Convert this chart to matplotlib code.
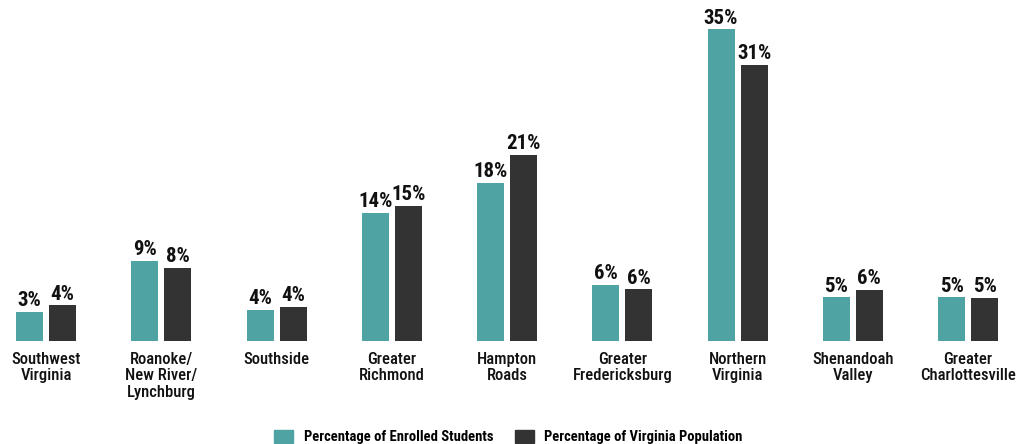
import matplotlib.pyplot as plt
import matplotlib.patches as mpatches
import numpy as np
from matplotlib import font_manager

regions = ['Southwest\nVirginia', 'Roanoke/\nNew River/\nLynchburg', 'Southside',
           'Greater\nRichmond', 'Hampton\nRoads', 'Greater\nFredericksburg',
           'Northern\nVirginia', 'Shenandoah\nValley', 'Greater\nCharlottesville']
enrolled = [3.3, 9.0, 3.5, 14.4, 17.8, 6.3, 35.0, 4.9, 4.9]
population = [4.0, 8.2, 3.8, 15.2, 20.9, 5.8, 31.0, 5.7, 4.8]
enrolled_lbl = ['3%', '9%', '4%', '14%', '18%', '6%', '35%', '5%', '5%']
population_lbl = ['4%', '8%', '4%', '15%', '21%', '6%', '31%', '6%', '5%']

teal = '#4fa3a3'
dark = '#333333'

names = {f.name for f in font_manager.fontManager.ttflist}
fam = [f for f in ['Roboto Condensed', 'Fira Sans Condensed', 'Liberation Sans Narrow']
       if f in names] + ['DejaVu Sans']
plt.rcParams['font.family'] = fam

fig = plt.figure(figsize=(10.17, 4.44), dpi=100)
ax = fig.add_axes([0, 0.232, 1, 0.768])

x = np.arange(len(regions))
w = 0.234
off = 0.143
b1 = ax.bar(x - off, enrolled, w, color=teal)
b2 = ax.bar(x + off, population, w, color=dark)

for bars, labels in [(b1, enrolled_lbl), (b2, population_lbl)]:
    for bar, lab in zip(bars, labels):
        ax.text(bar.get_x() + bar.get_width() / 2, bar.get_height() + 0.2, lab,
                ha='center', va='bottom', fontsize=15, fontweight='bold', color='#111111')

ax.set_xlim(-0.4, 8.425)
ax.set_ylim(0, 38.3)
ax.set_xticks(x)
ax.set_xticklabels(regions, fontsize=12, fontweight='medium', color='#111111', linespacing=1.1)
ax.tick_params(axis='x', length=0, pad=8)
ax.set_yticks([])
for s in ax.spines.values():
    s.set_visible(False)

handles = [mpatches.Patch(color=teal, label='Percentage of Enrolled Students'),
           mpatches.Patch(color=dark, label='Percentage of Virginia Population')]
fig.legend(handles=handles, loc='lower center', bbox_to_anchor=(0.5, -0.03), ncol=2,
           frameon=False, prop={'family': fam, 'weight': 'bold', 'size': 10.5},
           handlelength=1.3, handleheight=1.0, columnspacing=1.5, handletextpad=0.7)

fig.savefig('out.png', dpi=100, facecolor='white')
